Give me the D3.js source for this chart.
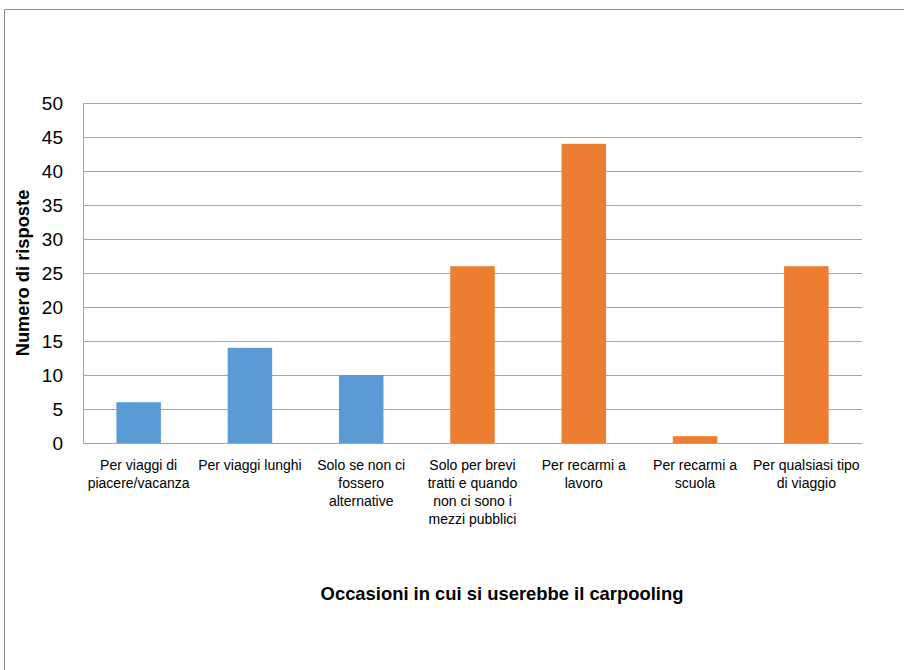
<!DOCTYPE html>
<html>
<head>
<meta charset="utf-8">
<script src="https://cdn.jsdelivr.net/npm/d3@7"></script>
<style>
  html, body { margin: 0; padding: 0; background: #fff; }
  svg { display: block; }
</style>
</head>
<body>
<svg id="chart" width="904" height="670"></svg>
<script>
const categories = [
  ["Per viaggi di", "piacere/vacanza"],
  ["Per viaggi lunghi"],
  ["Solo se non ci", "fossero", "alternative"],
  ["Solo per brevi", "tratti e quando", "non ci sono i", "mezzi pubblici"],
  ["Per recarmi a", "lavoro"],
  ["Per recarmi a", "scuola"],
  ["Per qualsiasi tipo", "di viaggio"]
];
const values = [6, 14, 10, 26, 44, 1, 26];
const groups = ["blue", "blue", "blue", "orange", "orange", "orange", "orange"];
const yTicks = [0, 5, 10, 15, 20, 25, 30, 35, 40, 45, 50];
const yTitle = "Numero di risposte";
const xTitle = "Occasioni in cui si userebbe il carpooling";

const colors = { blue: "#5B9BD5", orange: "#ED7D31" };
const font = "'Liberation Sans Narrow', 'Arial Narrow', 'Liberation Sans', Arial, sans-serif";

const svg = d3.select("#chart");
// outer frame
svg.append("path")
  .attr("d", "M4.5,670 L4.5,9.5 L904,9.5")
  .attr("fill", "none").attr("stroke", "#8c8c8c").attr("stroke-width", 1);

const pLeft = 83, pRight = 862, pTop = 103, pBottom = 443;
const x = d3.scaleBand().domain(d3.range(values.length)).range([pLeft, pRight])
  .paddingInner(0.6).paddingOuter(0.3);
const y = d3.scaleLinear().domain([0, 50]).range([pBottom, pTop]);

// gridlines
svg.append("g").selectAll("line").data(yTicks).join("line")
  .attr("x1", pLeft).attr("x2", pRight)
  .attr("y1", d => Math.round(y(d)) + 0.5).attr("y2", d => Math.round(y(d)) + 0.5)
  .attr("stroke", "#a6a6a6").attr("stroke-width", 1);
// left axis line
svg.append("line").attr("x1", pLeft + 0.5).attr("x2", pLeft + 0.5)
  .attr("y1", pTop).attr("y2", pBottom + 0.5).attr("stroke", "#a6a6a6");

// bars
svg.append("g").selectAll("rect").data(values).join("rect")
  .attr("x", (d, i) => x(i))
  .attr("width", x.bandwidth())
  .attr("y", d => y(d))
  .attr("height", d => y(0) - y(d))
  .attr("fill", (d, i) => colors[groups[i]]);

// y tick labels
svg.append("g").selectAll("text").data(yTicks).join("text")
  .attr("x", 63).attr("y", d => y(d))
  .attr("dy", "0.35em")
  .attr("text-anchor", "end")
  .attr("font-family", font).attr("font-size", 19)
  .attr("fill", "#000")
  .text(d => d);

// x labels
const xl = svg.append("g").selectAll("text").data(categories).join("text")
  .attr("x", (d, i) => x(i) + x.bandwidth() / 2)
  .attr("y", 470)
  .attr("text-anchor", "middle")
  .attr("font-family", font).attr("font-size", 14)
  .attr("fill", "#000");
xl.selectAll("tspan").data(d => d).join("tspan")
  .attr("x", function() { return this.parentNode.getAttribute("x"); })
  .attr("dy", (d, i) => i === 0 ? 0 : 18)
  .text(d => d);

// y title
svg.append("text")
  .attr("transform", `translate(29,${(pTop + pBottom) / 2}) rotate(-90)`)
  .attr("text-anchor", "middle")
  .attr("font-family", font).attr("font-size", 18.3).attr("font-weight", "bold")
  .text(yTitle);

// x title
svg.append("text")
  .attr("x", 502).attr("y", 600)
  .attr("text-anchor", "middle")
  .attr("font-family", font).attr("font-size", 18.4).attr("font-weight", "bold")
  .text(xTitle);
</script>
</body>
</html>
